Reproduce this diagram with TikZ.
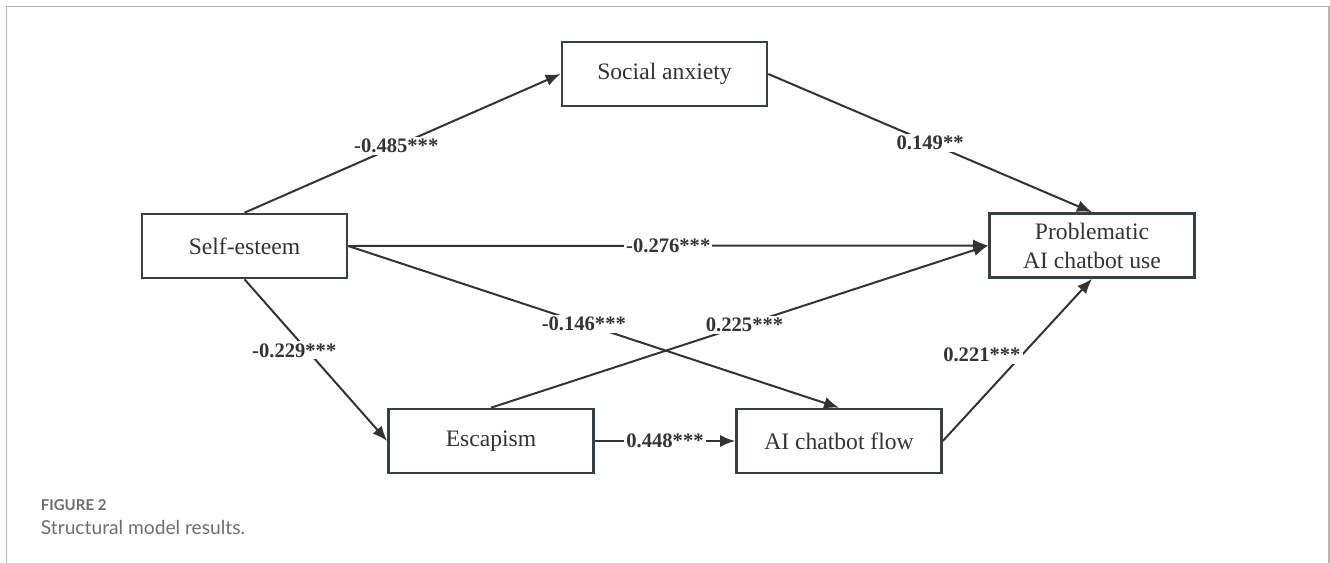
\documentclass[tikz,border=0pt]{standalone}
\usepackage{fontspec}
\setmainfont{Liberation Serif}
\newfontfamily\capfont{Lato}
\usepackage{tikz}
\usetikzlibrary{arrows.meta,positioning,calc}

\definecolor{ink}{HTML}{333333}
\definecolor{boxc}{HTML}{3A3F44}
\definecolor{framec}{HTML}{B4B4B4}
\definecolor{capc}{HTML}{6D6E71}

\begin{document}
\begin{tikzpicture}[x=0.5pt,y=-0.5pt,
    box/.style={draw=boxc,line width=1.3pt,minimum width=102.5pt,minimum height=32pt,
      inner sep=0pt,align=center,text=ink,font=\fontsize{11.8}{14.5}\selectfont},
    path/.style={draw=ink,line width=1pt,-{Latex[length=7.5pt,width=6pt]}},
    coef/.style={fill=white,inner sep=1pt,text=ink,font=\fontsize{10.3}{12}\selectfont\bfseries}]
  \useasboundingbox (0,0) rectangle (1330,563);
  \draw[framec,line width=0.75pt] (6.5,563) -- (6.5,6.5) -- (1329,6.5) -- (1329,563);

  % constructs
  \node[box] (sa) at (664.5,74) {Social anxiety};
  \node[box] (se) at (244.5,246) {Self-esteem};
  \node[box] (pu) at (1092,245.5) {Problematic\\AI chatbot use};
  \node[box] (es) at (491,441) {Escapism};
  \node[box] (fl) at (839,441) {AI chatbot flow};

  % paths
  \draw[path] (se.north) -- node[coef,pos=0.48]{-0.485***} (sa.west);
  \draw[path] (sa.east) -- node[coef,pos=0.5]{0.149**} (pu.north);
  \draw[path] (se.east) -- node[coef,pos=0.5]{-0.276***} (pu.west);
  \draw[path] (se.east) -- node[coef,pos=0.48]{-0.146***} (fl.north);
  \draw[path] (se.south) -- node[coef,pos=0.44,xshift=-6.5pt]{-0.229***} (es.west);
  \draw[path] (es.north) -- node[coef,pos=0.51]{0.225***} (pu.west);
  \draw[path] (es.east) -- node[coef,pos=0.5]{0.448***} (fl.west);
  \draw[path] (fl.east) -- node[coef,pos=0.53,xshift=-20pt]{0.221***} (pu.south);

  % caption
  \node[anchor=west,inner sep=0pt,text=capc,font=\capfont\fontsize{7.5}{9}\selectfont\bfseries] (fig) at (40.5,505) {FIGURE 2};
  \node[anchor=west,inner sep=0pt,text=capc,font=\capfont\fontsize{9.6}{12}\selectfont] (cap) at (40.5,527) {Structural model results.};
\end{tikzpicture}
\end{document}
